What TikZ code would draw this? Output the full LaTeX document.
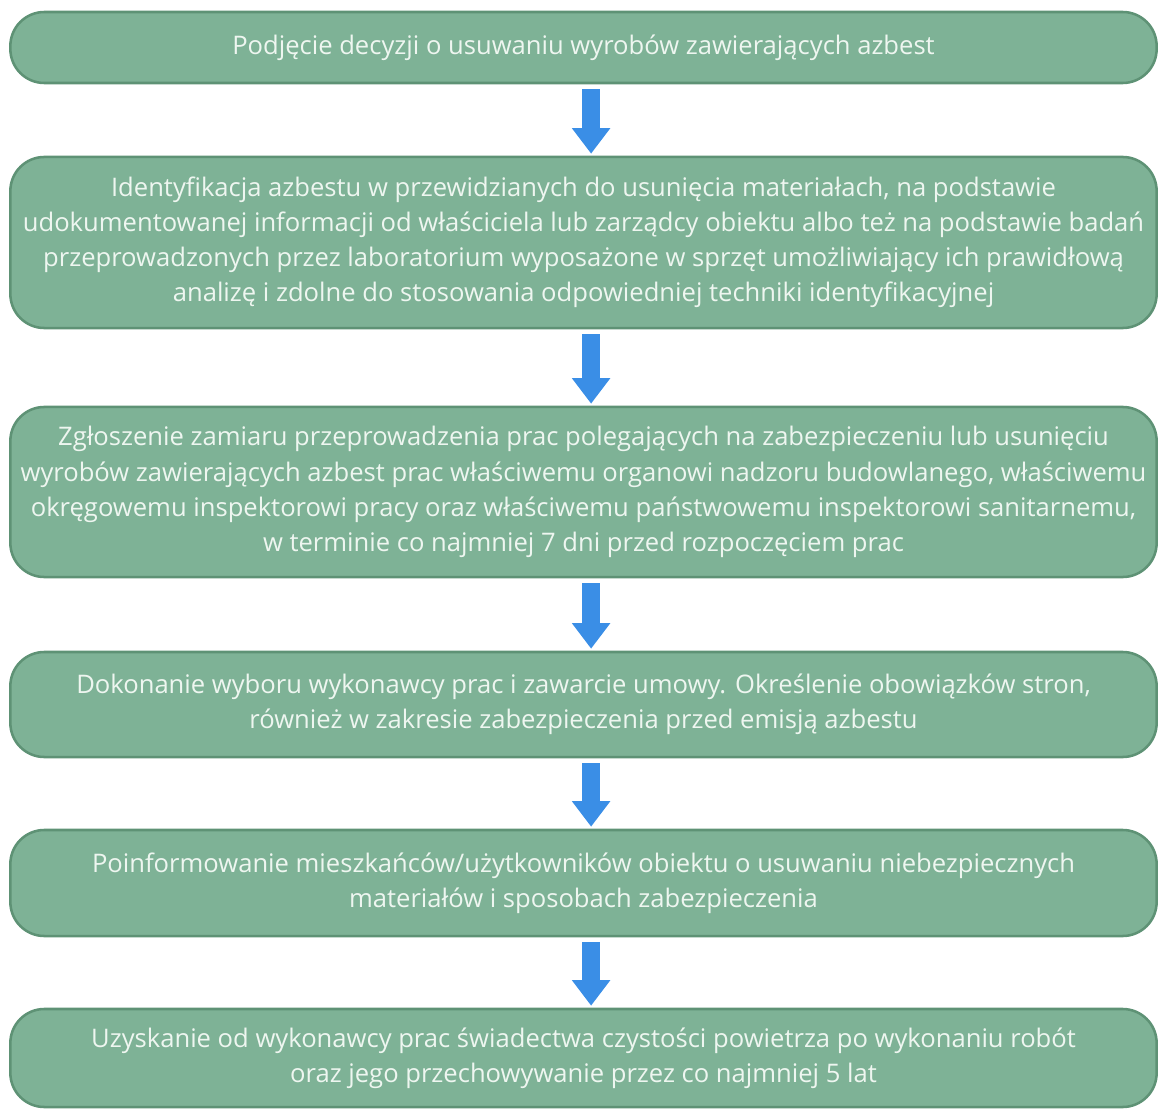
\documentclass[tikz,border=0pt]{standalone}
\usepackage{fontspec}
\setmainfont{Open Sans}
\usetikzlibrary{arrows.meta}
\definecolor{boxfill}{RGB}{126,178,150}
\definecolor{boxline}{RGB}{94,146,117}
\definecolor{boxtext}{RGB}{238,246,240}
\definecolor{arrowblue}{RGB}{58,142,230}
\tikzset{
  stepbox/.style={draw=boxline, line width=1.8pt, fill=boxfill, rounded corners=0.85cm,
    minimum width=28.65cm, text=boxtext, align=center, inner sep=0pt,
    font=\fontsize{18.2}{25}\selectfont},
  flow/.style={draw=arrowblue, line width=0.45cm,
    -{Triangle[width=0.92cm,length=0.64cm,fill=arrowblue]}, shorten <=0.12cm, shorten >=0.05cm}
}
\begin{document}
\begin{tikzpicture}[x=0.025cm,y=-0.025cm]
\useasboundingbox (0,0) rectangle (1159,1109);
\node[stepbox, minimum height=1.775cm] (s1) at (583.5,47.5) {Podjęcie decyzji o usuwaniu wyrobów zawierających azbest};
\node[stepbox, minimum height=4.275cm] (s2) at (583.5,242.5) {Identyfikacja azbestu w przewidzianych do usunięcia materiałach, na podstawie\\udokumentowanej informacji od właściciela lub zarządcy obiektu albo też na podstawie badań\\przeprowadzonych przez laboratorium wyposażone w sprzęt umożliwiający ich prawidłową\\analizę i zdolne do stosowania odpowiedniej techniki identyfikacyjnej};
\node[stepbox, minimum height=4.25cm] (s3) at (583.5,492) {Zgłoszenie zamiaru przeprowadzenia prac polegających na zabezpieczeniu lub usunięciu\\wyrobów zawierających azbest prac właściwemu organowi nadzoru budowlanego, właściwemu\\okręgowemu inspektorowi pracy oraz właściwemu państwowemu inspektorowi sanitarnemu,\\w terminie co najmniej 7 dni przed rozpoczęciem prac};
\node[stepbox, minimum height=2.625cm] (s4) at (583.5,704.5) {Dokonanie wyboru wykonawcy prac i zawarcie umowy. Określenie obowiązków stron,\\również w zakresie zabezpieczenia przed emisją azbestu};
\node[stepbox, minimum height=2.65cm] (s5) at (583.5,883) {Poinformowanie mieszkańców/użytkowników obiektu o usuwaniu niebezpiecznych\\materiałów i sposobach zabezpieczenia};
\node[stepbox, minimum height=2.45cm] (s6) at (583.5,1058) {Uzyskanie od wykonawcy prac świadectwa czystości powietrza po wykonaniu robót\\oraz jego przechowywanie przez co najmniej 5 lat};
\draw[flow] ([xshift=0.19cm]s1.south) -- ([xshift=0.19cm]s2.north);
\draw[flow] ([xshift=0.19cm]s2.south) -- ([xshift=0.19cm]s3.north);
\draw[flow] ([xshift=0.19cm]s3.south) -- ([xshift=0.19cm]s4.north);
\draw[flow] ([xshift=0.19cm]s4.south) -- ([xshift=0.19cm]s5.north);
\draw[flow] ([xshift=0.19cm]s5.south) -- ([xshift=0.19cm]s6.north);
\end{tikzpicture}
\end{document}
